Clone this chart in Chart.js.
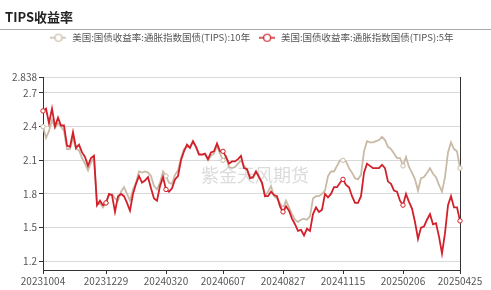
<!DOCTYPE html>
<html>
<head>
<meta charset="utf-8">
<script src="https://cdn.jsdelivr.net/npm/chart.js@4.4.1/dist/chart.umd.min.js"></script>
<style>
  html, body { margin: 0; padding: 0; background: #fff; }
  #wrap { position: relative; width: 491px; height: 290px; }
</style>
</head>
<body>
<div id="wrap"><canvas id="tips_chart"></canvas></div>
<script>
// sampled trading dates (category axis)
const dates = [
  '20231004','20231009','20231013','20231018','20231023','20231026','20231031','20231103','20231108','20231113',
  '20231116','20231121','20231124','20231129','20231204','20231207','20231212','20231215','20231220','20231222',
  '20231227','20231229','20240103','20240108','20240111','20240117','20240122','20240125','20240130','20240202',
  '20240207','20240212','20240215','20240221','20240226','20240229','20240305','20240308','20240312','20240315',
  '20240318','20240320','20240325','20240328','20240403','20240408','20240411','20240416','20240419','20240424',
  '20240429','20240502','20240507','20240510','20240515','20240520','20240523','20240529','20240531','20240604',
  '20240607','20240612','20240617','20240621','20240626','20240701','20240703','20240709','20240712','20240717',
  '20240722','20240725','20240730','20240802','20240807','20240812','20240815','20240819','20240821','20240823',
  '20240827','20240830','20240904','20240909','20240912','20240917','20240920','20240925','20240930','20241003',
  '20241008','20241011','20241017','20241022','20241025','20241030','20241104','20241106','20241108','20241112',
  '20241115','20241120','20241125','20241129','20241204','20241209','20241212','20241217','20241220','20241226',
  '20241231','20250106','20250110','20250115','20250121','20250124','20250128','20250130','20250203','20250205',
  '20250206','20250211','20250214','20250220','20250225','20250228','20250305','20250310','20250313','20250318',
  '20250321','20250326','20250331','20250403','20250408','20250411','20250416','20250421','20250423','20250425'
];

// 10y TIPS yield
const tips10y = [
  2.40,2.30,2.36,2.46,2.39,2.43,2.40,2.36,2.20,2.20,
  2.30,2.20,2.19,2.12,2.07,2.01,2.08,2.12,1.71,1.72,
  1.68,1.72,1.79,1.80,1.76,1.74,1.82,1.86,1.80,1.74,
  1.84,1.90,2.00,1.99,2.00,1.99,1.96,1.87,1.84,1.90,
  2.00,1.96,1.90,1.89,1.97,2.01,2.12,2.20,2.22,2.22,
  2.27,2.22,2.16,2.15,2.15,2.10,2.14,2.16,2.23,2.16,
  2.10,2.13,2.04,2.03,2.04,2.07,2.10,2.05,2.02,1.96,
  1.94,2.00,1.96,1.90,1.78,1.82,1.87,1.78,1.76,1.72,
  1.67,1.74,1.68,1.62,1.57,1.55,1.57,1.58,1.57,1.60,
  1.76,1.78,1.78,1.80,1.83,1.96,2.00,2.00,2.05,2.10,
  2.10,2.09,2.03,1.99,1.94,1.93,1.97,2.18,2.27,2.26,
  2.26,2.27,2.28,2.31,2.28,2.22,2.20,2.16,2.12,2.12,
  2.05,2.13,2.04,1.99,1.93,1.83,1.94,1.95,1.99,2.03,
  1.98,1.95,1.88,1.82,1.95,2.17,2.26,2.20,2.18,2.03
];

// 5y TIPS yield
const tips5y = [
  2.54,2.56,2.43,2.56,2.40,2.48,2.41,2.41,2.23,2.22,
  2.35,2.21,2.24,2.17,2.13,2.05,2.12,2.14,1.70,1.74,
  1.70,1.72,1.80,1.79,1.64,1.78,1.80,1.78,1.72,1.65,
  1.80,1.89,1.96,1.90,1.92,1.95,1.85,1.76,1.74,1.87,
  1.95,1.84,1.82,1.85,1.93,1.96,2.10,2.18,2.24,2.21,
  2.27,2.22,2.15,2.15,2.16,2.11,2.17,2.18,2.25,2.18,
  2.18,2.13,2.07,2.09,2.09,2.11,2.14,2.03,2.02,1.94,
  1.95,2.00,1.95,1.90,1.78,1.78,1.82,1.79,1.78,1.69,
  1.64,1.69,1.65,1.58,1.53,1.47,1.48,1.43,1.49,1.47,
  1.62,1.68,1.64,1.66,1.80,1.77,1.80,1.86,1.86,1.90,
  1.93,1.88,1.86,1.78,1.72,1.72,1.78,1.99,2.07,2.05,
  2.03,2.03,2.03,2.06,2.03,1.91,1.89,1.83,1.82,1.74,
  1.70,1.80,1.73,1.67,1.55,1.40,1.50,1.51,1.57,1.62,
  1.53,1.54,1.42,1.27,1.45,1.70,1.78,1.68,1.68,1.56
];

const tickDates = ['20231004','20231229','20240320','20240607','20240827','20241115','20250206','20250425'];
const yTicks = [1.2, 1.5, 1.8, 2.1, 2.4, 2.7, 2.838];
const yMin = 1.122
const yMax = 2.838

const fam = '"Microsoft YaHei","Noto Sans CJK SC","Noto Sans",sans-serif';
const grayColor = '#c8baa6';
const redColor = '#d21f29';

Chart.defaults.font.family = fam;

const tickIdx = new Set(tickDates.map(d => dates.indexOf(d)));
const markR = ctx => tickIdx.has(ctx.dataIndex) ? 2.2 : 0;

// legend icon: short line with a hollow circle
function legendIcon(color) {
  const cv = document.createElement('canvas');
  cv.width = 16; cv.height = 10;
  const c = cv.getContext('2d');
  c.strokeStyle = color;
  c.lineWidth = 1.5;
  c.beginPath(); c.moveTo(0, 5); c.lineTo(16, 5); c.stroke();
  c.fillStyle = '#fff';
  c.lineWidth = 1.2;
  c.beginPath(); c.arc(8, 5, 3.5, 0, Math.PI * 2); c.fill(); c.stroke();
  return cv;
}
const icons = [legendIcon(grayColor), legendIcon(redColor)];

// title, separator line and watermark
const decor = {
  id: 'decor',
  beforeDraw(chart) {
    const c = chart.ctx;
    c.save();
    c.fillStyle = '#222';
    c.font = 'bold 13px ' + fam;
    c.textBaseline = 'middle';
    c.textAlign = 'left';
    c.fillText('TIPS收益率', 5, 17);
    c.strokeStyle = '#aaa';
    c.lineWidth = 1;
    c.beginPath(); c.moveTo(0, 29.5); c.lineTo(491, 29.5); c.stroke();
    c.restore();
  },
  beforeDatasetsDraw(chart) {
    const c = chart.ctx;
    c.save();
    c.fillStyle = 'rgba(190,190,190,0.55)';
    c.font = '18px ' + fam;
    c.textAlign = 'center';
    c.textBaseline = 'middle';
    c.fillText('紫金天风期货', 255, 175);
    c.restore();
  }
};

// extra room between legend and plot
const legendGap = {
  id: 'legendGap',
  afterInit(chart) {
    const fit = chart.legend.fit;
    chart.legend.fit = function () { fit.call(this); this.height += 25; };
  }
};

new Chart(document.getElementById('tips_chart'), {
  type: 'line',
  data: {
    labels: dates,
    datasets: [
      {
        label: '美国:国债收益率:通胀指数国债(TIPS):10年',
        data: tips10y,
        borderColor: grayColor,
        borderWidth: 1.8,
        pointRadius: markR,
        pointBackgroundColor: '#fff',
        pointBorderColor: grayColor,
        pointBorderWidth: 1,
        tension: 0,
        order: 2
      },
      {
        label: '美国:国债收益率:通胀指数国债(TIPS):5年',
        data: tips5y,
        borderColor: redColor,
        borderWidth: 1.8,
        pointRadius: markR,
        pointBackgroundColor: '#fff',
        pointBorderColor: redColor,
        pointBorderWidth: 1,
        tension: 0,
        order: 1
      }
    ]
  },
  options: {
    responsive: true,
    maintainAspectRatio: false,
    animation: false,
    events: [],
    layout: { padding: { top: 25, left: 12, right: 0, bottom: 0 } },
    plugins: {
      tooltip: { enabled: false },
      legend: {
        position: 'top',
        labels: {
          usePointStyle: true,
          pointStyleWidth: 18,
          padding: 8,
          color: '#555',
          font: { size: 9.5 },
          sort: (a, b) => a.datasetIndex - b.datasetIndex,
          generateLabels(chart) {
            const items = Chart.defaults.plugins.legend.labels.generateLabels(chart);
            items.forEach(it => { it.pointStyle = icons[it.datasetIndex]; });
            return items;
          }
        }
      }
    },
    scales: {
      x: {
        afterFit(s) { s.height = 20; },
        ticks: {
          autoSkip: false,
          maxRotation: 0,
          padding: 1,
          color: '#555',
          font: { size: 10 },
          callback(v, i) { return tickDates.includes(dates[i]) ? dates[i] : null; }
        },
        grid: { drawOnChartArea: false, tickLength: 4, color: '#333' },
        border: { color: '#333' }
      },
      y: {
        min: yMin,
        max: yMax,
        afterFit(s) { s.width = 31; },
        afterBuildTicks(s) { s.ticks = yTicks.map(v => ({ value: v })); },
        ticks: {
          padding: 2,
          color: '#555',
          font: { size: 10 },
          callback: v => v === 2.838 ? '2.838' : v.toFixed(1)
        },
        grid: { color: '#d9d9d9', tickLength: 4, tickColor: '#333' },
        border: { color: '#333' }
      },
      y2: {
        position: 'right',
        afterFit(s) { s.width = 31; },
        ticks: { display: false },
        grid: { display: false },
        border: { display: true, color: '#333' }
      }
    }
  },
  plugins: [decor, legendGap]
});
</script>
</body>
</html>
